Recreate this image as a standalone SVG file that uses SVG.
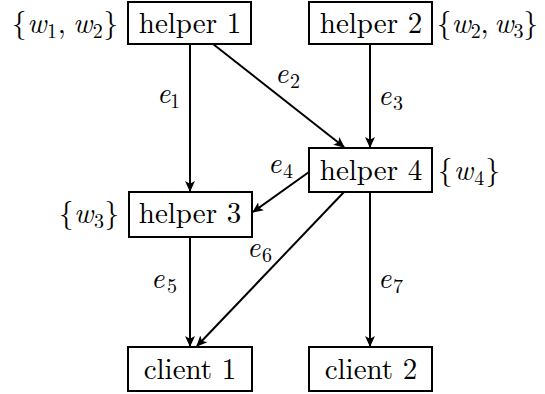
<svg xmlns="http://www.w3.org/2000/svg" width="545" height="394" viewBox="0 0 545 394" font-family="Latin Modern Roman, Liberation Serif, serif">
<defs>
<style>
.box{fill:#fff;stroke:#000;stroke-width:2}
.t{font-size:29px;fill:#000}
.i{font-style:italic}
.s{font-size:20px;font-style:normal}
.e{stroke:#000;stroke-width:2;fill:none;marker-end:url(#ah)}
</style>
<marker id="ah" viewBox="0 0 10 10" refX="9" refY="5" markerWidth="5.5" markerHeight="5.5" orient="auto" markerUnits="strokeWidth">
<path d="M0,0.5 L10,5 L0,9.5 L2.5,5 Z" fill="#000"/>
</marker>
</defs>
<rect width="545" height="394" fill="#fff"/>
<g id="connectors">
<line class="e" x1="190" y1="44" x2="190" y2="191"/>
<line class="e" x1="213" y1="44" x2="344" y2="147"/>
<line class="e" x1="370" y1="44" x2="370" y2="147"/>
<line class="e" x1="309" y1="172" x2="253" y2="212"/>
<line class="e" x1="190" y1="237" x2="190" y2="346"/>
<line class="e" x1="344" y1="192" x2="197" y2="346"/>
<line class="e" x1="370" y1="192" x2="370" y2="346"/>
<g class="t">
<text class="i" x="157" y="103" textLength="23">e<tspan class="s" dy="5">1</tspan></text>
<text class="i" x="275" y="83" textLength="25">e<tspan class="s" dy="5">2</tspan></text>
<text class="i" x="378" y="105" textLength="25">e<tspan class="s" dy="5">3</tspan></text>
<text class="i" x="268" y="173" textLength="25">e<tspan class="s" dy="5">4</tspan></text>
<text class="i" x="151" y="288" textLength="26">e<tspan class="s" dy="5">5</tspan></text>
<text class="i" x="247" y="257" textLength="25">e<tspan class="s" dy="5">6</tspan></text>
<text class="i" x="378" y="288" textLength="25">e<tspan class="s" dy="5">7</tspan></text>
</g>
</g>
<g id="helper1">
<rect class="box" x="128" y="2" width="123" height="42"/>
<text class="t" x="190" y="33" text-anchor="middle">helper 1</text>
<text class="t" x="12" y="33" textLength="106" lengthAdjust="spacing">{<tspan class="i">w</tspan><tspan class="s" dy="5">1</tspan><tspan dy="-5">,&#8201;</tspan><tspan class="i">w</tspan><tspan class="s" dy="5">2</tspan><tspan dy="-5">}</tspan></text>
</g>
<g id="helper2">
<rect class="box" x="309" y="2" width="123" height="42"/>
<text class="t" x="371" y="33" text-anchor="middle">helper 2</text>
<text class="t" x="437" y="33" textLength="101" lengthAdjust="spacing">{<tspan class="i">w</tspan><tspan class="s" dy="5">2</tspan><tspan dy="-5">,&#8201;</tspan><tspan class="i">w</tspan><tspan class="s" dy="5">3</tspan><tspan dy="-5">}</tspan></text>
</g>
<g id="helper3">
<rect class="box" x="129" y="192" width="123" height="45"/>
<text class="t" x="190" y="223" text-anchor="middle">helper 3</text>
<text class="t" x="59" y="223" textLength="60" lengthAdjust="spacing">{<tspan class="i">w</tspan><tspan class="s" dy="5">3</tspan><tspan dy="-5">}</tspan></text>
</g>
<g id="helper4">
<rect class="box" x="309" y="148" width="123" height="44"/>
<text class="t" x="371" y="180" text-anchor="middle">helper 4</text>
<text class="t" x="438" y="180" textLength="62" lengthAdjust="spacing">{<tspan class="i">w</tspan><tspan class="s" dy="5">4</tspan><tspan dy="-5">}</tspan></text>
</g>
<g id="client1">
<rect class="box" x="128" y="347" width="124" height="44"/>
<text class="t" x="190" y="379" text-anchor="middle">client 1</text>
</g>
<g id="client2">
<rect class="box" x="309" y="347" width="123" height="44"/>
<text class="t" x="371" y="379" text-anchor="middle">client 2</text>
</g>
</svg>
